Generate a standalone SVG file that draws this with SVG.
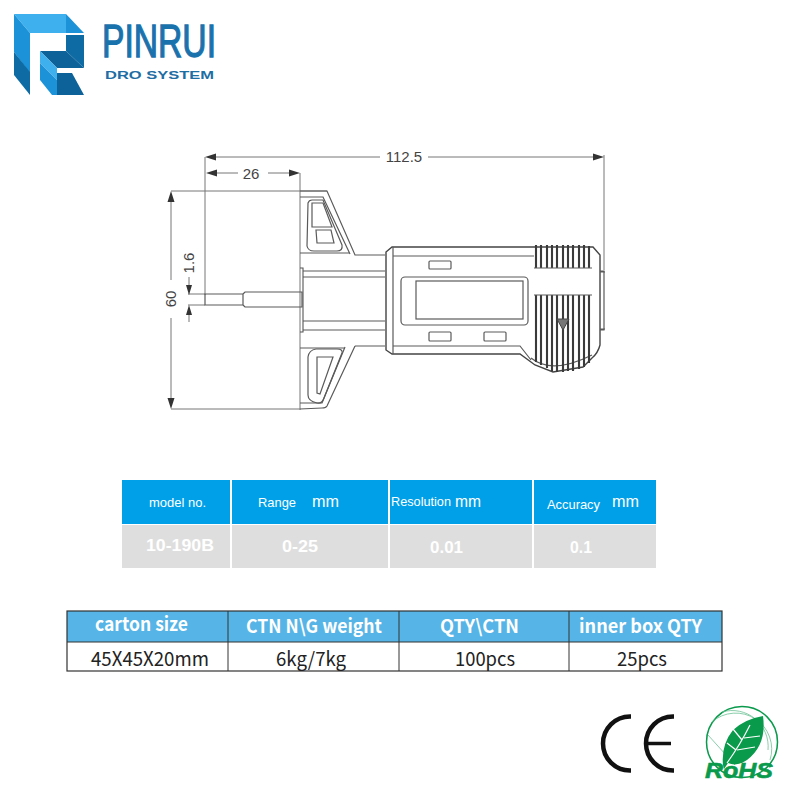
<svg xmlns="http://www.w3.org/2000/svg" width="800" height="800" viewBox="0 0 800 800">
<style>
.ln{fill:none;stroke:#5a5a5a;stroke-width:1.200}
.dim{fill:none;stroke:#777;stroke-width:1}
.knurl{fill:none;stroke:#3a3a3a;stroke-width:2.100}
.dt{font:15px "Liberation Sans",Arial,sans-serif;fill:#444;text-anchor:middle}
.th{font-family:"Liberation Sans",Arial,sans-serif;fill:#fff}
.bd{font-family:"Liberation Sans",Arial,sans-serif;fill:#fff;font-weight:bold}
.h2{font:bold 18.500px "Noto Sans CJK SC","Liberation Sans",sans-serif;fill:#fff}
.b2{font:19.500px "Noto Sans CJK SC","Liberation Sans",sans-serif;fill:#222}
</style>
<rect width="800" height="800" fill="#fff"/>
<g id="logo">
<path d="M14 14H66V33H30Z" fill="#3fb0ee"/>
<path d="M66 14L84 33H66Z" fill="#1c93d8"/>
<path d="M14 14L30 33V73L14 52Z" fill="#1c93d8"/>
<path d="M14 52L30 72V95L14 75Z" fill="#0e6ba3"/>
<path d="M66 35H84V68L66 51Z" fill="#0e6ba3"/>
<path d="M40 51H66L84 68H57Z" fill="#0c6299"/>
<path d="M40 51L57 68V80L40 63Z" fill="#3fb0ee"/>
<path d="M40 63L57 80V95H52L40 80Z" fill="#1c93d8"/>
<path d="M57 73H72L84 95H57Z" fill="#0c6299"/>
<text x="102" y="57" font-family="'Liberation Sans',Arial,sans-serif" font-size="46" fill="#1a72ad" stroke="#1a72ad" stroke-width="1.300" textLength="114" lengthAdjust="spacingAndGlyphs">PINRUI</text>
<text x="105" y="79" font-family="'Liberation Sans',Arial,sans-serif" font-size="11.500" font-weight="bold" fill="#1e6da3" textLength="109" lengthAdjust="spacingAndGlyphs">DRO SYSTEM</text>
</g>
<g id="dimensions">
<path class="dim" d="M205 157V295M300 173V410M171 191H327M171 409H300M188 294H205M188 305H205M604 155V270"/>
<path class="dim" d="M215 157H380M428 157H594"/>
<path d="M205 157l11-3.500v7zM604 157l-11-3.500v7z" fill="#333"/>
<path class="dim" d="M216 173H238M268 173H290"/>
<path d="M206 173l11-3.500v7zM300 173l-11-3.500v7z" fill="#333"/>
<path class="dim" d="M171 201V280M171 318V399"/>
<path d="M171 191l-3.500 11h7zM171 409l-3.500-11h7z" fill="#333"/>
<path class="dim" d="M189 277V285M189 315V322"/>
<path d="M189 295l-3-10h6zM189 305l-3 10h6z" fill="#333"/>
<text class="dt" x="404" y="162">112.5</text>
<text class="dt" x="251" y="179">26</text>
<text class="dt" transform="translate(176 299) rotate(-90)">60</text>
<text class="dt" font-size="13" transform="translate(194 263) rotate(-90)">1.6</text>
</g>
<g id="gauge">
<path class="ln" d="M205 294H243V305H205ZM243 294L245 292H302V307H245L243 305"/>
<path class="ln" d="M300 191H327L355 255H385M300 197H323L350 254M300 253H350"/>
<path class="ln" d="M308 203Q309 200 312 200H323L342 245Q343 251 337 251H314Q308 251 307 246Z"/>
<path class="ln" d="M312 203H323L332 227H312ZM316 230H331L334 243H317Z"/>
<path d="M300 268H303V332H300" fill="none" stroke="#555" stroke-width="1.100"/>
<path class="ln" d="M303 271H385M303 277H385M303 321H385M303 330H385"/>
<path class="ln" d="M300 348H345M355 346H385M355 346L327 406Q326 408 322 408L300 409M345 347L322 403H300"/>
<path class="ln" d="M308 357Q309 350 316 349H337Q343 349 342 353L324 398Q322 404 317 403Q308 401 308 395Z"/>
<path class="ln" d="M317 357H333L320 394L317 393Z"/>
<path d="M386 252L392 247H593L600 255V345Q598 353 592 358L583 367L553 372L535 365L520 354H392L386 350Z" fill="#fff" stroke="#444" stroke-width="1.400"/>
<path class="ln" d="M393 247V354M393 256H534M393 346H520L531 360M531 358Q552 375 592 355"/>
<rect class="ln" x="429" y="261" width="22" height="8" rx="1"/>
<rect class="ln" x="429" y="332" width="22" height="9" rx="1"/>
<rect class="ln" x="484" y="332" width="22" height="9" rx="1"/>
<rect class="ln" x="401" y="277" width="127" height="48" rx="4"/>
<rect class="ln" x="416" y="281" width="107" height="38"/>
<path class="knurl" d="M536 245V268M541 245V268M547 245V268M552 245V268M557 245V268M563 245V268M568 245V268M573 245V268M579 245V268M584 245V268M589 246V268"/>
<path class="knurl" d="M536 295V362M541 295V365M547 295V368M552 295V371M557 295V372M563 295V372M568 295V371M573 295V371M579 295V369M584 295V367M589 295V363"/>
<path class="ln" d="M534 268H592M534 295H592"/>
<path d="M557 319H569L563 330Z" fill="#777" stroke="#444"/>
<path class="ln" d="M600 271H604V330H600M600 272h5M600 329h5"/>
</g>
<g id="spec-table">
<rect x="122" y="480" width="108" height="44" fill="#00a0e9"/>
<rect x="232" y="480" width="156" height="44" fill="#00a0e9"/>
<rect x="390" y="480" width="142" height="44" fill="#00a0e9"/>
<rect x="534" y="480" width="122" height="44" fill="#00a0e9"/>
<rect x="122" y="525" width="108" height="43" fill="#dedede"/>
<rect x="232" y="525" width="156" height="43" fill="#dedede"/>
<rect x="390" y="525" width="142" height="43" fill="#dedede"/>
<rect x="534" y="525" width="122" height="43" fill="#dedede"/>
<text class="th" x="149" y="507" font-size="13" textLength="57" lengthAdjust="spacingAndGlyphs">model no.</text>
<text class="th" x="258" y="507" font-size="13.500" textLength="38" lengthAdjust="spacingAndGlyphs">Range</text>
<text class="th" x="312" y="507" font-size="16" textLength="27" lengthAdjust="spacingAndGlyphs">mm</text>
<text class="th" x="391" y="506" font-size="13.500" textLength="60" lengthAdjust="spacingAndGlyphs">Resolution</text>
<text class="th" x="455" y="507" font-size="16" textLength="26" lengthAdjust="spacingAndGlyphs">mm</text>
<text class="th" x="547" y="509" font-size="13.500" textLength="53" lengthAdjust="spacingAndGlyphs">Accuracy</text>
<text class="th" x="612" y="507" font-size="16" textLength="27" lengthAdjust="spacingAndGlyphs">mm</text>
<text class="bd" x="146" y="551" font-size="17" textLength="68" lengthAdjust="spacingAndGlyphs">10-190B</text>
<text class="bd" x="282" y="552" font-size="17" textLength="36" lengthAdjust="spacingAndGlyphs">0-25</text>
<text class="bd" x="430" y="553" font-size="17" textLength="33" lengthAdjust="spacingAndGlyphs">0.01</text>
<text class="bd" x="570" y="553" font-size="17" textLength="22" lengthAdjust="spacingAndGlyphs">0.1</text>
</g>
<g id="carton-table">
<rect x="67" y="611" width="655" height="31" fill="#56b4e6"/>
<rect x="67" y="611" width="655" height="60" fill="none" stroke="#333" stroke-width="1.200"/>
<path d="M67 642H722M228 611V671M399 611V671M569 611V671" fill="none" stroke="#333" stroke-width="1"/>
<text class="h2" x="95" y="631" textLength="93" lengthAdjust="spacingAndGlyphs">carton size</text>
<text class="h2" x="246" y="633" textLength="136" lengthAdjust="spacingAndGlyphs">CTN N\G weight</text>
<text class="h2" x="440" y="633" textLength="79" lengthAdjust="spacingAndGlyphs">QTY\CTN</text>
<text class="h2" x="579" y="633" textLength="123" lengthAdjust="spacingAndGlyphs">inner box QTY</text>
<text class="b2" x="91" y="666" textLength="118" lengthAdjust="spacingAndGlyphs">45X45X20mm</text>
<text class="b2" x="276" y="666" textLength="70" lengthAdjust="spacingAndGlyphs">6kg/7kg</text>
<text class="b2" x="455" y="666" textLength="60" lengthAdjust="spacingAndGlyphs">100pcs</text>
<text class="b2" x="617" y="666" textLength="50" lengthAdjust="spacingAndGlyphs">25pcs</text>
</g>
<g id="ce-mark" fill="none" stroke="#111" stroke-width="4.500">
<path d="M631 716.500H630A27 27 0 0 0 630 770.500H631"/>
<path d="M674 716.500H673A27 27 0 0 0 673 770.500H674"/>
<path d="M647 743.500H671" stroke-width="3.500"/>
</g>
<g id="rohs">
<circle cx="742" cy="742" r="35.500" fill="none" stroke="#0a9a4c" stroke-width="1.500"/>
<path d="M712 722A36 36 0 0 1 770 760M722 712A36 36 0 0 1 768 750M708 735L735 765" fill="none" stroke="#6cc296" stroke-width="0.800"/>
<path d="M763 716Q767 745 747 760Q737 767 728 763L724 769L723 765Q721 745 733 730Q745 719 763 716Z" fill="#0a9a4c"/>
<path d="M727 763Q740 745 750 725M736 750L727 743M742 740L733 729M737 750L755 747M744 738L760 736" fill="none" stroke="#fff" stroke-width="1.200"/>
<text x="705" y="778" font-family="'Liberation Sans',Arial,sans-serif" font-size="22" font-weight="bold" font-style="italic" fill="#0a9a4c" stroke="#0a9a4c" stroke-width="0.600" textLength="68" lengthAdjust="spacingAndGlyphs">RoHS</text>
</g>
</svg>
